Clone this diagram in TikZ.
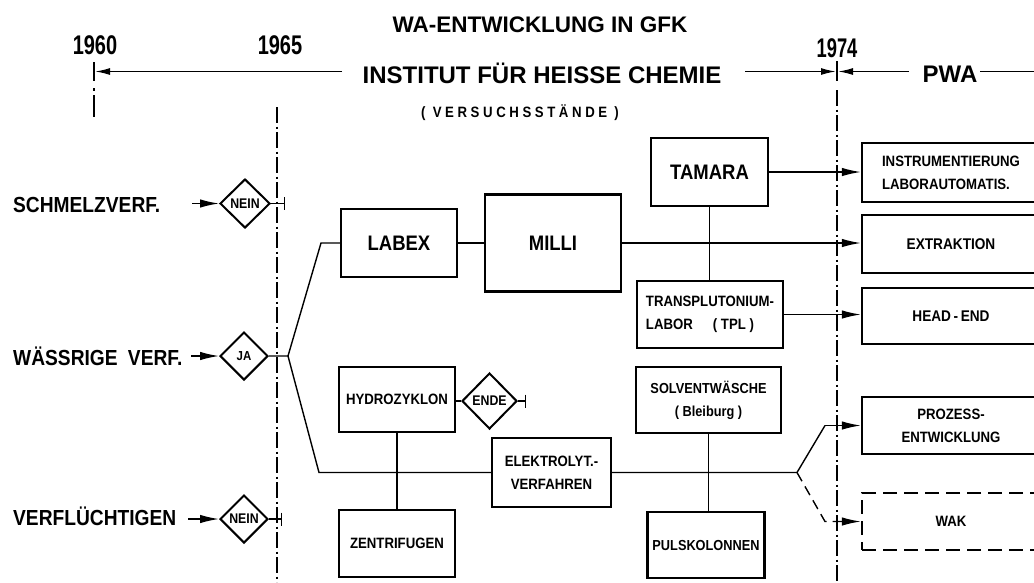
\documentclass[tikz,border=0pt]{standalone}
\usepackage{fontspec}
\setmainfont{Liberation Sans}
\newfontfamily\nsf{Liberation Sans}[FakeStretch=0.88]
\usetikzlibrary{arrows.meta,shapes.geometric}
\newcommand\fsz[1]{\fontsize{#1}{#1}\selectfont}
\newcommand\fszl[2]{\fontsize{#1}{#2}\selectfont}
\begin{document}
\begin{tikzpicture}[x=1pt,y=-1pt,
  box/.style={draw, line width=2.4pt, rectangle, inner sep=0pt, align=center, font=\nsf\bfseries\fszl{15}{23}},
  dia/.style={draw, diamond, line width=2pt, inner sep=0pt, aspect=1},
  con/.style={line width=1.4pt},
  arr/.style={con, -{Latex[length=19pt,width=8.5pt]}},
  tarr/.style={line width=1.5pt, -{Latex[length=15pt,width=7pt]}},
  endbar/.style={con, -{Bar[width=13pt]}},
  dashdot/.style={line width=1.8pt, dash pattern=on 16pt off 3.5pt on 2pt off 3.5pt},
  lab/.style={font=\nsf\bfseries\fsz{21.8}, inner sep=0pt},
  year/.style={font=\bfseries\fsz{27}, inner sep=0pt},
]
\useasboundingbox (0,0) rectangle (1034,582);
\fill[white] (0,0) rectangle (1034,582);
\clip (0,0) rectangle (1034,582);

% header
\node[font=\bfseries\fsz{22.5}, inner sep=0pt] (title) at (540,25) {WA-ENTWICKLUNG IN GFK};
\node[year] (y1960) at (95,45) {\scalebox{0.74}[1]{1960}};
\node[year] (y1965) at (280,45) {\scalebox{0.74}[1]{1965}};
\node[year] (y1974) at (837,48) {\scalebox{0.68}[1]{1974}};
\node[font=\bfseries\fsz{24}, inner sep=0pt] (inst) at (542,73) {INSTITUT FÜR HEISSE CHEMIE};
\node[font=\nsf\bfseries\fsz{15}\addfontfeature{LetterSpace=24}, inner sep=0pt] (vers) at (520,113) {( VERSUCHSSTÄNDE )};
\node[font=\bfseries\fsz{24}, inner sep=0pt] (pwa) at (950,74) {PWA};

% timeline
\coordinate (tl0) at (94,71.5);
\coordinate (tl1) at (342,71.5);
\coordinate (tr0) at (745,71.5);
\coordinate (t74) at (837,71.5);
\coordinate (tr1) at (909,71.5);
\coordinate (tr2) at (980,71.5);
\coordinate (tr3) at (1034,71.5);
\draw[line width=1.6pt] (94,62) -- (94,81);
\draw[tarr] (tl1) -- ([xshift=1pt]tl0);
\draw[tarr] (tr0) -- ([xshift=-1pt]t74);
\draw[line width=1.6pt] (837,61) -- (837,81);
\draw[tarr] (tr1) -- ([xshift=1pt]t74);
\draw[line width=1.5pt] (tr2) -- (tr3);

% vertical year lines
\draw[line width=1.8pt] (94,88) -- (94,90.5);
\draw[line width=1.8pt] (94,95) -- (94,117);
\draw[dashdot] (277,107) -- (277,582);
\draw[dashdot] (837,90) -- (837,582);

% left labels
\node[lab, anchor=base west] (schmelz) at (13,212) {SCHMELZVERF.};
\node[lab, anchor=base west] (waess) at (13,365) {WÄSSRIGE\hspace{5pt} VERF.};
\node[lab, anchor=base west] (verfl) at (13,525) {VERFLÜCHTIGEN};

% diamonds
\node[dia, minimum width=50pt, minimum height=49pt, font=\nsf\bfseries\fsz{14}] (nein1) at (245,203.5) {NEIN};
\node[dia, minimum width=48pt, minimum height=48pt, font=\nsf\bfseries\fsz{13}] (ja) at (244,356) {JA};
\node[dia, minimum width=48pt, minimum height=48pt, font=\nsf\bfseries\fsz{14}] (nein2) at (244,519) {NEIN};
\node[dia, minimum width=55pt, minimum height=56pt, font=\nsf\bfseries\fsz{14}] (ende) at (489.5,401) {ENDE};

% boxes
\node[box, minimum width=116pt, minimum height=68pt, font=\nsf\bfseries\fsz{21}] (labex) at (399,243) {LABEX};
\node[box, minimum width=136pt, minimum height=97pt, font=\nsf\bfseries\fsz{21}] (milli) at (553,243) {MILLI};
\node[box, minimum width=117pt, minimum height=68pt, font=\nsf\bfseries\fsz{21}] (tamara) at (709.5,172) {TAMARA};
\node[box, minimum width=146pt, minimum height=67pt, align=left] (tpl) at (710,314.5) {TRANSPLUTONIUM-\\LABOR\hspace{20pt}( TPL )};
\node[box, minimum width=116pt, minimum height=65pt] (hydro) at (397,399.5) {HYDROZYKLON};
\node[box, minimum width=116pt, minimum height=67pt] (zentr) at (397,543.5) {ZENTRIFUGEN};
\node[box, minimum width=119pt, minimum height=69pt] (elek) at (551.5,472.5) {ELEKTROLYT.-\\VERFAHREN};
\node[box, minimum width=145pt, minimum height=66pt, font=\nsf\bfseries\fszl{14.5}{23}] (solv) at (708.5,400) {SOLVENTWÄSCHE\\( Bleiburg )};
\node[box, minimum width=117pt, minimum height=66pt, font=\nsf\bfseries\fsz{14.5}] (puls) at (706,545) {PULSKOLONNEN};

\node[box, minimum width=178pt, minimum height=59pt, align=left] (instr) at (951,172.5) {INSTRUMENTIERUNG\\LABORAUTOMATIS.};
\node[box, minimum width=178pt, minimum height=58pt, font=\nsf\bfseries\fsz{15.5}] (extr) at (951,244) {EXTRAKTION};
\node[box, minimum width=178pt, minimum height=56pt, font=\nsf\bfseries\fsz{15.5}] (head) at (951,316) {HEAD\,-\,END};
\node[box, minimum width=178pt, minimum height=57pt] (proz) at (951,425.5) {PROZESS-\\ENTWICKLUNG};
\node[box, minimum width=178pt, minimum height=57pt, dash pattern=on 14pt off 7pt] (wak) at (951,521.5) {WAK};

% input arrows and stops
\coordinate (i1) at (192,203.5);
\coordinate (i2) at (191,356);
\coordinate (i3) at (188,519);
\draw[arr] (i1) -- (nein1.west);
\draw[arr] (i2) -- (ja.west);
\draw[arr] (i3) -- (nein2.west);
\coordinate (e1) at (285,203.5);
\coordinate (e3) at (282,519);
\coordinate (e2) at (526,401);
\draw[endbar] (nein1.east) -- (e1);
\draw[endbar] (nein2.east) -- (e3);
\draw[endbar] (ende.east) -- (e2);

% branch from JA
\coordinate (J) at (288,356);
\coordinate (U) at (321,243);
\coordinate (D) at (319,472.5);
\draw[con] (ja.east) -- (J) -- (U) -- (labex.west);
\draw[con] (J) -- (D) -- (elek.west);

% upper chain
\draw[con] (labex.east) -- (labex.east -| milli.west);
\draw[arr] (milli.east) -- (milli.east -| extr.west);
\draw[arr] (tamara.east) -- (tamara.east -| instr.west);
\draw[con] (tamara.south) -- (tamara.south |- tpl.north);
\draw[arr] (tpl.east) -- (tpl.east -| head.west);

% lower chain
\draw[con] (hydro.east |- ende.west) -- (ende.west);
\draw[con] (hydro.south) -- (hydro.south |- zentr.north);
\draw[con] (solv.south) -- (solv.south |- puls.north);

\coordinate (S) at (797,472.5);
\coordinate (P1) at (825,425.5);
\coordinate (P2) at (825,521.5);
\draw[con] (elek.east) -- (S) -- (P1);
\draw[arr] (P1) -- (proz.west);
\draw[arr, dash pattern=on 10pt off 6pt] (S) -- (P2) -- (wak.west);
\end{tikzpicture}
\end{document}
